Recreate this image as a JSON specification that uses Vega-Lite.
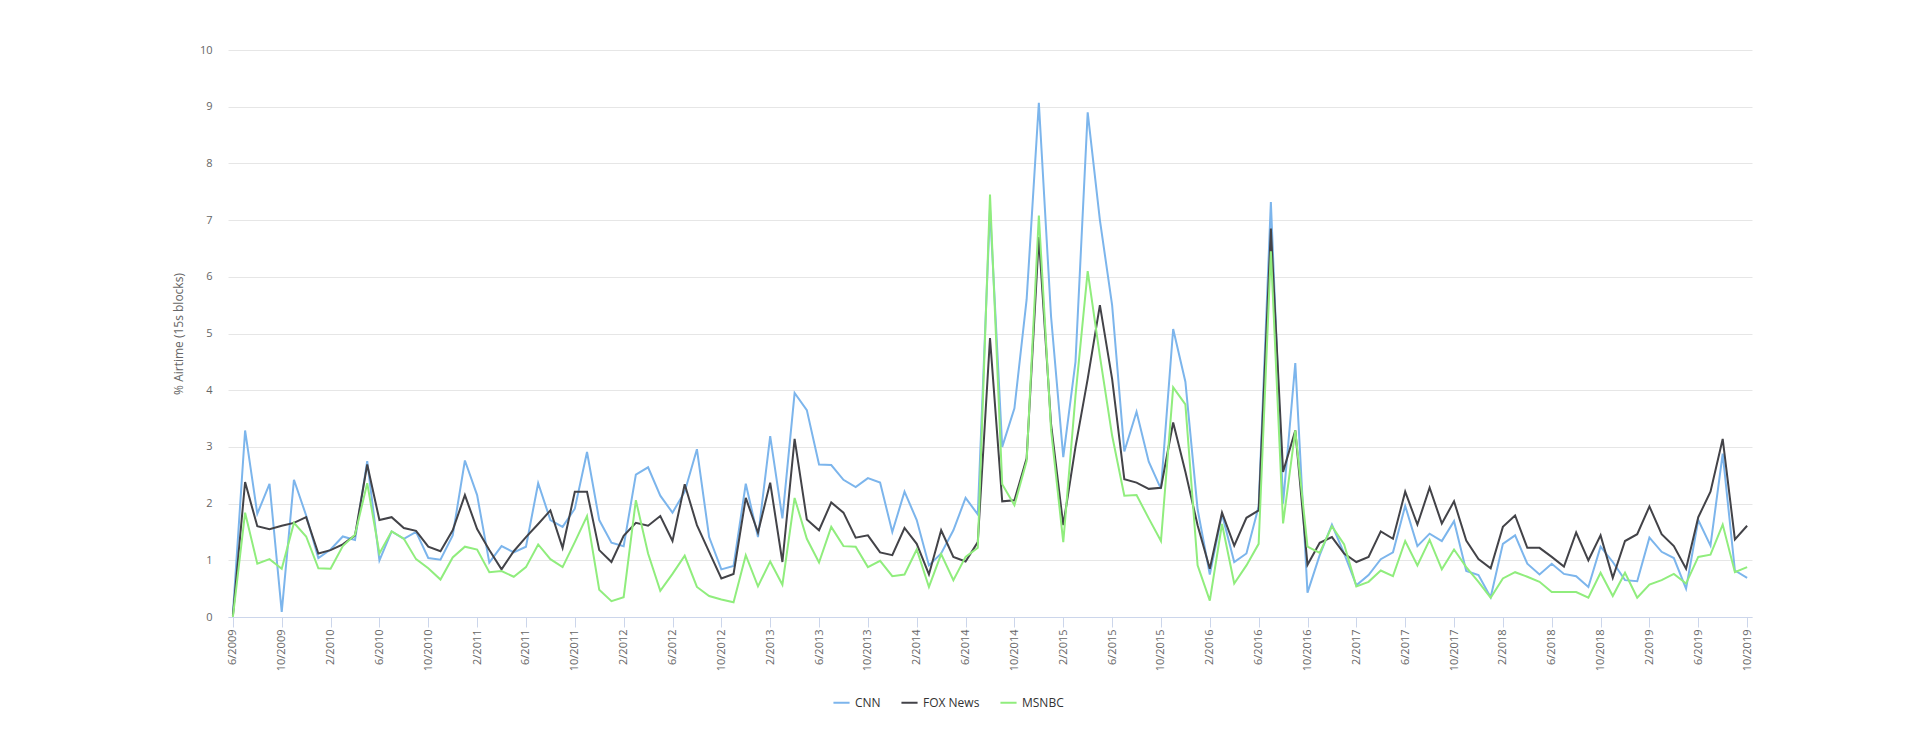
{
  "$schema": "https://vega.github.io/schema/vega-lite/v6.json",
  "description": "Monthly share of airtime (15s blocks) on CNN, FOX News and MSNBC, 6/2009 to 10/2019.",
  "autosize": "none",
  "padding": {"left": 228, "top": 50, "right": 168, "bottom": 123},
  "width": 1524,
  "height": 567,
  "config": {
    "font": "Open Sans",
    "view": {"stroke": null},
    "axis": {"labelColor": "#666666", "titleColor": "#666666", "labelFontSize": 11, "titleFontSize": 12, "titleFontWeight": "normal"},
    "legend": {"labelColor": "#333333", "labelFontSize": 12}
  },
  "data": {
    "values": [
      {"m": "6/2009", "CNN": 0.05, "FOX News": 0.02, "MSNBC": 0.0},
      {"m": "7/2009", "CNN": 3.29, "FOX News": 2.38, "MSNBC": 1.84},
      {"m": "8/2009", "CNN": 1.82, "FOX News": 1.6, "MSNBC": 0.94},
      {"m": "9/2009", "CNN": 2.35, "FOX News": 1.55, "MSNBC": 1.02},
      {"m": "10/2009", "CNN": 0.09, "FOX News": 1.61, "MSNBC": 0.85},
      {"m": "11/2009", "CNN": 2.42, "FOX News": 1.66, "MSNBC": 1.66},
      {"m": "12/2009", "CNN": 1.79, "FOX News": 1.76, "MSNBC": 1.42},
      {"m": "1/2010", "CNN": 1.04, "FOX News": 1.12, "MSNBC": 0.86},
      {"m": "2/2010", "CNN": 1.19, "FOX News": 1.18, "MSNBC": 0.85},
      {"m": "3/2010", "CNN": 1.42, "FOX News": 1.28, "MSNBC": 1.25},
      {"m": "4/2010", "CNN": 1.36, "FOX News": 1.44, "MSNBC": 1.45},
      {"m": "5/2010", "CNN": 2.75, "FOX News": 2.69, "MSNBC": 2.36},
      {"m": "6/2010", "CNN": 1.0, "FOX News": 1.71, "MSNBC": 1.12},
      {"m": "7/2010", "CNN": 1.51, "FOX News": 1.76, "MSNBC": 1.51},
      {"m": "8/2010", "CNN": 1.38, "FOX News": 1.57, "MSNBC": 1.38},
      {"m": "9/2010", "CNN": 1.5, "FOX News": 1.52, "MSNBC": 1.02},
      {"m": "10/2010", "CNN": 1.04, "FOX News": 1.24, "MSNBC": 0.86},
      {"m": "11/2010", "CNN": 1.01, "FOX News": 1.16, "MSNBC": 0.66},
      {"m": "12/2010", "CNN": 1.44, "FOX News": 1.53, "MSNBC": 1.05},
      {"m": "1/2011", "CNN": 2.76, "FOX News": 2.15, "MSNBC": 1.24},
      {"m": "2/2011", "CNN": 2.15, "FOX News": 1.55, "MSNBC": 1.19},
      {"m": "3/2011", "CNN": 0.96, "FOX News": 1.18, "MSNBC": 0.79},
      {"m": "4/2011", "CNN": 1.25, "FOX News": 0.84, "MSNBC": 0.81},
      {"m": "5/2011", "CNN": 1.14, "FOX News": 1.16, "MSNBC": 0.71},
      {"m": "6/2011", "CNN": 1.24, "FOX News": 1.41, "MSNBC": 0.88},
      {"m": "7/2011", "CNN": 2.36, "FOX News": 1.64, "MSNBC": 1.28},
      {"m": "8/2011", "CNN": 1.71, "FOX News": 1.88, "MSNBC": 1.02},
      {"m": "9/2011", "CNN": 1.59, "FOX News": 1.22, "MSNBC": 0.88},
      {"m": "10/2011", "CNN": 1.91, "FOX News": 2.21, "MSNBC": 1.32},
      {"m": "11/2011", "CNN": 2.91, "FOX News": 2.21, "MSNBC": 1.78},
      {"m": "12/2011", "CNN": 1.71, "FOX News": 1.18, "MSNBC": 0.48},
      {"m": "1/2012", "CNN": 1.31, "FOX News": 0.97, "MSNBC": 0.28},
      {"m": "2/2012", "CNN": 1.25, "FOX News": 1.43, "MSNBC": 0.35},
      {"m": "3/2012", "CNN": 2.51, "FOX News": 1.66, "MSNBC": 2.06},
      {"m": "4/2012", "CNN": 2.64, "FOX News": 1.61, "MSNBC": 1.12},
      {"m": "5/2012", "CNN": 2.14, "FOX News": 1.78, "MSNBC": 0.46},
      {"m": "6/2012", "CNN": 1.84, "FOX News": 1.34, "MSNBC": 0.76},
      {"m": "7/2012", "CNN": 2.21, "FOX News": 2.34, "MSNBC": 1.08},
      {"m": "8/2012", "CNN": 2.96, "FOX News": 1.62, "MSNBC": 0.53},
      {"m": "9/2012", "CNN": 1.41, "FOX News": 1.15, "MSNBC": 0.37},
      {"m": "10/2012", "CNN": 0.84, "FOX News": 0.68, "MSNBC": 0.31},
      {"m": "11/2012", "CNN": 0.9, "FOX News": 0.76, "MSNBC": 0.26},
      {"m": "12/2012", "CNN": 2.35, "FOX News": 2.1, "MSNBC": 1.09},
      {"m": "1/2013", "CNN": 1.41, "FOX News": 1.49, "MSNBC": 0.54},
      {"m": "2/2013", "CNN": 3.19, "FOX News": 2.37, "MSNBC": 0.98},
      {"m": "3/2013", "CNN": 1.74, "FOX News": 0.97, "MSNBC": 0.57},
      {"m": "4/2013", "CNN": 3.95, "FOX News": 3.14, "MSNBC": 2.1},
      {"m": "5/2013", "CNN": 3.65, "FOX News": 1.72, "MSNBC": 1.38},
      {"m": "6/2013", "CNN": 2.69, "FOX News": 1.53, "MSNBC": 0.96},
      {"m": "7/2013", "CNN": 2.68, "FOX News": 2.02, "MSNBC": 1.59},
      {"m": "8/2013", "CNN": 2.42, "FOX News": 1.84, "MSNBC": 1.25},
      {"m": "9/2013", "CNN": 2.29, "FOX News": 1.4, "MSNBC": 1.24},
      {"m": "10/2013", "CNN": 2.45, "FOX News": 1.44, "MSNBC": 0.88},
      {"m": "11/2013", "CNN": 2.37, "FOX News": 1.14, "MSNBC": 0.99},
      {"m": "12/2013", "CNN": 1.5, "FOX News": 1.09, "MSNBC": 0.72},
      {"m": "1/2014", "CNN": 2.21, "FOX News": 1.57, "MSNBC": 0.75},
      {"m": "2/2014", "CNN": 1.71, "FOX News": 1.29, "MSNBC": 1.19},
      {"m": "3/2014", "CNN": 0.91, "FOX News": 0.75, "MSNBC": 0.53},
      {"m": "4/2014", "CNN": 1.12, "FOX News": 1.53, "MSNBC": 1.11},
      {"m": "5/2014", "CNN": 1.53, "FOX News": 1.06, "MSNBC": 0.65},
      {"m": "6/2014", "CNN": 2.1, "FOX News": 0.98, "MSNBC": 1.06},
      {"m": "7/2014", "CNN": 1.81, "FOX News": 1.32, "MSNBC": 1.22},
      {"m": "8/2014", "CNN": 7.2, "FOX News": 4.92, "MSNBC": 7.45},
      {"m": "9/2014", "CNN": 3.0, "FOX News": 2.04, "MSNBC": 2.34},
      {"m": "10/2014", "CNN": 3.68, "FOX News": 2.06, "MSNBC": 1.97},
      {"m": "11/2014", "CNN": 5.6, "FOX News": 2.8, "MSNBC": 2.75},
      {"m": "12/2014", "CNN": 9.07, "FOX News": 6.7, "MSNBC": 7.08},
      {"m": "1/2015", "CNN": 5.3, "FOX News": 3.4, "MSNBC": 3.3},
      {"m": "2/2015", "CNN": 2.82, "FOX News": 1.62, "MSNBC": 1.32},
      {"m": "3/2015", "CNN": 4.5, "FOX News": 3.0, "MSNBC": 3.9},
      {"m": "4/2015", "CNN": 8.9, "FOX News": 4.2, "MSNBC": 6.1},
      {"m": "5/2015", "CNN": 7.0, "FOX News": 5.5, "MSNBC": 4.6},
      {"m": "6/2015", "CNN": 5.5, "FOX News": 4.2, "MSNBC": 3.2},
      {"m": "7/2015", "CNN": 2.92, "FOX News": 2.43, "MSNBC": 2.14},
      {"m": "8/2015", "CNN": 3.62, "FOX News": 2.37, "MSNBC": 2.15},
      {"m": "9/2015", "CNN": 2.74, "FOX News": 2.26, "MSNBC": 1.74},
      {"m": "10/2015", "CNN": 2.26, "FOX News": 2.28, "MSNBC": 1.34},
      {"m": "11/2015", "CNN": 5.08, "FOX News": 3.43, "MSNBC": 4.05},
      {"m": "12/2015", "CNN": 4.15, "FOX News": 2.56, "MSNBC": 3.75},
      {"m": "1/2016", "CNN": 1.9, "FOX News": 1.62, "MSNBC": 0.91},
      {"m": "2/2016", "CNN": 0.75, "FOX News": 0.85, "MSNBC": 0.29},
      {"m": "3/2016", "CNN": 1.81, "FOX News": 1.84, "MSNBC": 1.64},
      {"m": "4/2016", "CNN": 0.97, "FOX News": 1.26, "MSNBC": 0.59},
      {"m": "5/2016", "CNN": 1.12, "FOX News": 1.75, "MSNBC": 0.91},
      {"m": "6/2016", "CNN": 1.95, "FOX News": 1.88, "MSNBC": 1.29},
      {"m": "7/2016", "CNN": 7.32, "FOX News": 6.85, "MSNBC": 6.45},
      {"m": "8/2016", "CNN": 2.0, "FOX News": 2.56, "MSNBC": 1.65},
      {"m": "9/2016", "CNN": 4.48, "FOX News": 3.29, "MSNBC": 3.29},
      {"m": "10/2016", "CNN": 0.43, "FOX News": 0.92, "MSNBC": 1.24},
      {"m": "11/2016", "CNN": 1.09, "FOX News": 1.31, "MSNBC": 1.13},
      {"m": "12/2016", "CNN": 1.63, "FOX News": 1.41, "MSNBC": 1.6},
      {"m": "1/2017", "CNN": 1.12, "FOX News": 1.12, "MSNBC": 1.28},
      {"m": "2/2017", "CNN": 0.56, "FOX News": 0.97, "MSNBC": 0.54},
      {"m": "3/2017", "CNN": 0.74, "FOX News": 1.06, "MSNBC": 0.62},
      {"m": "4/2017", "CNN": 1.02, "FOX News": 1.51, "MSNBC": 0.82},
      {"m": "5/2017", "CNN": 1.14, "FOX News": 1.38, "MSNBC": 0.72},
      {"m": "6/2017", "CNN": 1.96, "FOX News": 2.21, "MSNBC": 1.34},
      {"m": "7/2017", "CNN": 1.25, "FOX News": 1.63, "MSNBC": 0.91},
      {"m": "8/2017", "CNN": 1.47, "FOX News": 2.28, "MSNBC": 1.36},
      {"m": "9/2017", "CNN": 1.34, "FOX News": 1.65, "MSNBC": 0.84},
      {"m": "10/2017", "CNN": 1.69, "FOX News": 2.04, "MSNBC": 1.19},
      {"m": "11/2017", "CNN": 0.81, "FOX News": 1.35, "MSNBC": 0.88},
      {"m": "12/2017", "CNN": 0.74, "FOX News": 1.02, "MSNBC": 0.62},
      {"m": "1/2018", "CNN": 0.35, "FOX News": 0.86, "MSNBC": 0.34},
      {"m": "2/2018", "CNN": 1.29, "FOX News": 1.59, "MSNBC": 0.68},
      {"m": "3/2018", "CNN": 1.44, "FOX News": 1.79, "MSNBC": 0.79},
      {"m": "4/2018", "CNN": 0.94, "FOX News": 1.22, "MSNBC": 0.71},
      {"m": "5/2018", "CNN": 0.75, "FOX News": 1.22, "MSNBC": 0.62},
      {"m": "6/2018", "CNN": 0.94, "FOX News": 1.06, "MSNBC": 0.44},
      {"m": "7/2018", "CNN": 0.76, "FOX News": 0.89, "MSNBC": 0.44},
      {"m": "8/2018", "CNN": 0.72, "FOX News": 1.49, "MSNBC": 0.44},
      {"m": "9/2018", "CNN": 0.53, "FOX News": 1.0, "MSNBC": 0.34},
      {"m": "10/2018", "CNN": 1.24, "FOX News": 1.44, "MSNBC": 0.78},
      {"m": "11/2018", "CNN": 0.97, "FOX News": 0.69, "MSNBC": 0.37},
      {"m": "12/2018", "CNN": 0.65, "FOX News": 1.34, "MSNBC": 0.78},
      {"m": "1/2019", "CNN": 0.63, "FOX News": 1.46, "MSNBC": 0.34},
      {"m": "2/2019", "CNN": 1.4, "FOX News": 1.95, "MSNBC": 0.57},
      {"m": "3/2019", "CNN": 1.15, "FOX News": 1.46, "MSNBC": 0.65},
      {"m": "4/2019", "CNN": 1.04, "FOX News": 1.25, "MSNBC": 0.76},
      {"m": "5/2019", "CNN": 0.5, "FOX News": 0.85, "MSNBC": 0.59},
      {"m": "6/2019", "CNN": 1.71, "FOX News": 1.76, "MSNBC": 1.06},
      {"m": "7/2019", "CNN": 1.26, "FOX News": 2.21, "MSNBC": 1.1},
      {"m": "8/2019", "CNN": 2.88, "FOX News": 3.14, "MSNBC": 1.63},
      {"m": "9/2019", "CNN": 0.82, "FOX News": 1.37, "MSNBC": 0.79},
      {"m": "10/2019", "CNN": 0.69, "FOX News": 1.61, "MSNBC": 0.88}
    ]
  },
  "transform": [
    {"fold": ["CNN", "FOX News", "MSNBC"], "as": ["series", "value"]}
  ],
  "mark": {"type": "line", "strokeWidth": 2, "interpolate": "linear"},
  "encoding": {
    "x": {
      "field": "m",
      "type": "ordinal",
      "sort": null,
      "scale": {"type": "point", "padding": 0.4},
      "axis": {
        "title": null,
        "labelAngle": -90,
        "values": ["6/2009", "10/2009", "2/2010", "6/2010", "10/2010", "2/2011", "6/2011", "10/2011", "2/2012", "6/2012", "10/2012", "2/2013", "6/2013", "10/2013", "2/2014", "6/2014", "10/2014", "2/2015", "6/2015", "10/2015", "2/2016", "6/2016", "10/2016", "2/2017", "6/2017", "10/2017", "2/2018", "6/2018", "10/2018", "2/2019", "6/2019", "10/2019"],
        "domainColor": "#ccd6eb",
        "tickColor": "#ccd6eb",
        "tickSize": 10,
        "labelPadding": 2,
        "grid": false
      }
    },
    "y": {
      "field": "value",
      "type": "quantitative",
      "scale": {"domain": [0, 10], "nice": false},
      "axis": {
        "title": "% Airtime (15s blocks)",
        "values": [0, 1, 2, 3, 4, 5, 6, 7, 8, 9, 10],
        "domain": false,
        "ticks": false,
        "labelPadding": 16,
        "titlePadding": 14,
        "gridColor": "#e6e6e6"
      }
    },
    "color": {
      "field": "series",
      "type": "nominal",
      "sort": ["CNN", "FOX News", "MSNBC"],
      "scale": {"domain": ["CNN", "FOX News", "MSNBC"], "range": ["#7cb5ec", "#434348", "#90ed7d"]},
      "legend": {
        "title": null,
        "orient": "none",
        "legendX": 604,
        "legendY": 643,
        "direction": "horizontal",
        "symbolType": "stroke",
        "symbolSize": 260,
        "symbolStrokeWidth": 2,
        "columnPadding": 16
      }
    }
  }
}
